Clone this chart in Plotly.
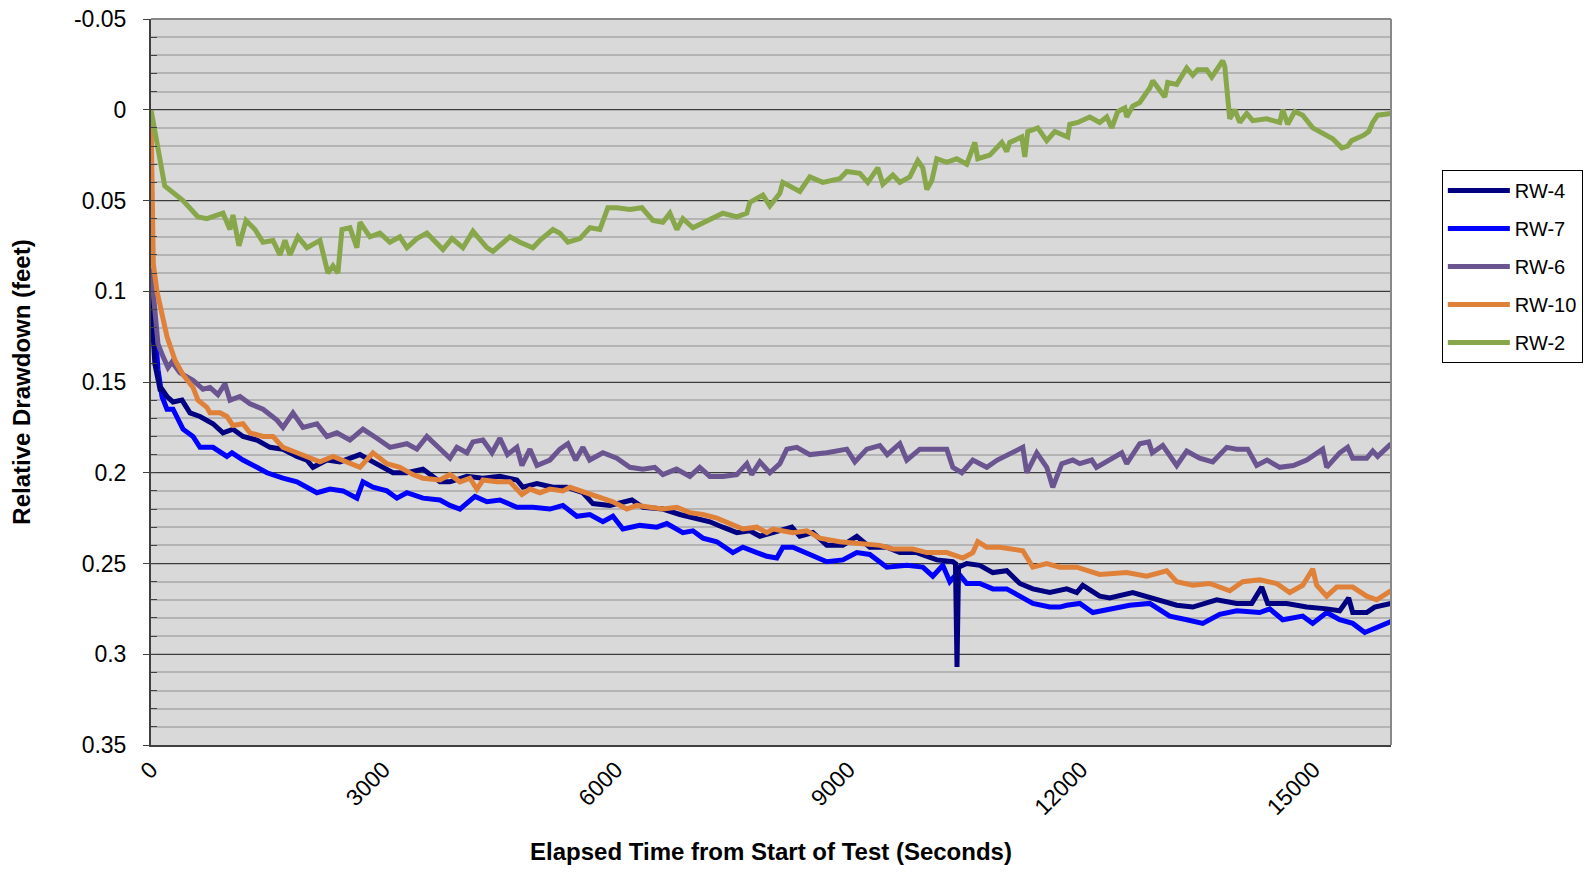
import plotly.graph_objects as go

# ── Data (elapsed seconds, drawdown in feet) ──
RW4_T = [0, 50, 116, 142, 206, 284, 400, 503, 632, 800, 929, 1058, 1187, 1367, 1535, 1703,
         1883, 2012, 2090, 2270, 2438, 2696, 2864, 3122, 3302, 3509, 3728, 3857, 4076, 4283,
         4502, 4721, 4799, 4979, 5186, 5366, 5573, 5702, 5921, 6205, 6347, 6605, 6824, 7043,
         7211, 7379, 7559, 7727, 7856, 8024, 8269, 8372, 8540, 8720, 8927, 9107, 9275, 9494,
         9662, 9881, 10139, 10346, 10380, 10400, 10420, 10526, 10694, 10862, 11042, 11210,
         11378, 11597, 11726, 11816, 11945, 12023, 12242, 12371, 12668, 12848, 13016, 13235,
         13442, 13751, 14009, 14203, 14332, 14409, 14654, 14912, 15170, 15338, 15454, 15506,
         15686, 15790, 16000]
RW4_Y = [0.105, 0.140, 0.154, 0.154, 0.158, 0.161, 0.160, 0.167, 0.169, 0.173, 0.178, 0.176,
         0.180, 0.182, 0.186, 0.187, 0.191, 0.193, 0.197, 0.193, 0.194, 0.190, 0.194, 0.200,
         0.200, 0.198, 0.205, 0.205, 0.202, 0.203, 0.202, 0.204, 0.208, 0.206, 0.208, 0.208,
         0.211, 0.217, 0.218, 0.215, 0.219, 0.220, 0.223, 0.225, 0.227, 0.230, 0.233, 0.232,
         0.235, 0.233, 0.230, 0.235, 0.233, 0.240, 0.240, 0.235, 0.241, 0.241, 0.244, 0.244,
         0.248, 0.249, 0.250, 0.307, 0.252, 0.250, 0.251, 0.255, 0.254, 0.261, 0.264, 0.266,
         0.265, 0.264, 0.266, 0.262, 0.268, 0.269, 0.266, 0.268, 0.270, 0.273, 0.274, 0.270,
         0.272, 0.272, 0.263, 0.272, 0.272, 0.274, 0.275, 0.276, 0.269, 0.277, 0.277, 0.274,
         0.272]

RW7_T = [0, 52, 90, 142, 206, 284, 413, 542, 632, 800, 980, 1045, 1187, 1367, 1496, 1703,
         1883, 2141, 2309, 2477, 2657, 2735, 2864, 3044, 3173, 3302, 3509, 3728, 3857, 3986,
         4180, 4334, 4502, 4721, 4928, 5147, 5315, 5495, 5663, 5831, 5960, 6089, 6308, 6527,
         6656, 6863, 6992, 7121, 7301, 7508, 7637, 7817, 7946, 8075, 8153, 8282, 8462, 8720,
         8927, 9107, 9275, 9494, 9752, 9959, 10088, 10217, 10307, 10410, 10526, 10694, 10862,
         11042, 11210, 11378, 11597, 11726, 11816, 11984, 12152, 12410, 12629, 12887, 13145,
         13364, 13571, 13790, 14009, 14306, 14435, 14603, 14861, 14990, 15170, 15338, 15506,
         15661, 15815, 16000]
RW7_Y = [0.090, 0.127, 0.143, 0.158, 0.165, 0.165, 0.176, 0.180, 0.186, 0.186, 0.191, 0.189,
         0.193, 0.197, 0.200, 0.203, 0.205, 0.211, 0.209, 0.210, 0.214, 0.205, 0.208, 0.210,
         0.214, 0.211, 0.214, 0.215, 0.218, 0.220, 0.213, 0.216, 0.215, 0.219, 0.219, 0.220,
         0.218, 0.224, 0.223, 0.227, 0.224, 0.231, 0.229, 0.230, 0.228, 0.233, 0.232, 0.236,
         0.238, 0.244, 0.241, 0.244, 0.246, 0.247, 0.241, 0.241, 0.244, 0.249, 0.248, 0.244,
         0.245, 0.252, 0.251, 0.252, 0.257, 0.251, 0.260, 0.255, 0.261, 0.261, 0.264, 0.264,
         0.268, 0.272, 0.274, 0.274, 0.273, 0.272, 0.277, 0.275, 0.273, 0.272, 0.279, 0.281,
         0.283, 0.278, 0.276, 0.277, 0.275, 0.281, 0.279, 0.283, 0.277, 0.281, 0.283, 0.288,
         0.285, 0.282]

RW6_T = [0, 52, 90, 155, 219, 271, 374, 542, 671, 761, 864, 955, 1019, 1148, 1277, 1445, 1625,
         1703, 1832, 1961, 2141, 2270, 2399, 2567, 2735, 2915, 3083, 3302, 3431, 3560, 3728,
         3857, 3947, 4076, 4154, 4283, 4400, 4502, 4600, 4721, 4786, 4889, 4980, 5147, 5276,
         5379, 5480, 5573, 5660, 5831, 6011, 6179, 6347, 6500, 6605, 6780, 6953, 7080, 7211,
         7380, 7559, 7688, 7750, 7856, 7985, 8114, 8204, 8333, 8501, 8720, 8978, 9082, 9236,
         9404, 9500, 9662, 9752, 9920, 10088, 10268, 10346, 10462, 10604, 10784, 10920, 11120,
         11249, 11300, 11429, 11558, 11636, 11752, 11894, 11984, 12139, 12200, 12332, 12526,
         12590, 12758, 12874, 12920, 13055, 13235, 13364, 13530, 13700, 13881, 14009, 14151,
         14267, 14400, 14564, 14740, 14912, 15119, 15170, 15338, 15441, 15506, 15686, 15764,
         15828, 16000]
RW6_Y = [0.087, 0.112, 0.129, 0.136, 0.142, 0.139, 0.145, 0.149, 0.154, 0.153, 0.157, 0.151,
         0.160, 0.158, 0.162, 0.165, 0.171, 0.175, 0.167, 0.175, 0.173, 0.180, 0.178, 0.182,
         0.176, 0.181, 0.186, 0.184, 0.187, 0.180, 0.187, 0.192, 0.186, 0.189, 0.183, 0.182,
         0.189, 0.181, 0.190, 0.186, 0.196, 0.187, 0.196, 0.193, 0.187, 0.184, 0.193, 0.186,
         0.193, 0.189, 0.192, 0.197, 0.198, 0.197, 0.201, 0.198, 0.202, 0.197, 0.202, 0.202,
         0.201, 0.195, 0.201, 0.194, 0.200, 0.195, 0.187, 0.186, 0.190, 0.189, 0.187, 0.194,
         0.187, 0.185, 0.190, 0.184, 0.193, 0.187, 0.187, 0.187, 0.197, 0.200, 0.193, 0.197,
         0.193, 0.189, 0.186, 0.200, 0.189, 0.197, 0.208, 0.195, 0.193, 0.195, 0.193, 0.197,
         0.194, 0.189, 0.195, 0.184, 0.183, 0.189, 0.185, 0.196, 0.188, 0.192, 0.194, 0.186,
         0.187, 0.187, 0.196, 0.193, 0.197, 0.196, 0.193, 0.187, 0.197, 0.189, 0.186, 0.192,
         0.192, 0.188, 0.191, 0.184]

RW10_T = [0, 10, 30, 77, 116, 142, 206, 310, 413, 542, 606, 722, 761, 890, 980, 1058, 1187,
          1277, 1445, 1574, 1703, 1883, 2012, 2180, 2348, 2528, 2696, 2864, 3044, 3212, 3380,
          3509, 3728, 3857, 3986, 4115, 4205, 4283, 4463, 4631, 4786, 4889, 5018, 5147, 5315,
          5405, 5534, 5663, 5792, 5960, 6140, 6269, 6437, 6605, 6785, 6953, 7121, 7301, 7469,
          7637, 7817, 7946, 8024, 8282, 8462, 8630, 8888, 9146, 9404, 9572, 9830, 10010, 10268,
          10475, 10604, 10668, 10784, 10952, 11120, 11249, 11378, 11558, 11726, 11945, 12242,
          12590, 12848, 13106, 13235, 13442, 13661, 13919, 14087, 14306, 14525, 14693, 14861,
          14990, 15041, 15170, 15299, 15506, 15686, 15815, 16000]
RW10_Y = [0.002, 0.050, 0.085, 0.100, 0.108, 0.112, 0.125, 0.138, 0.146, 0.153, 0.160, 0.164,
          0.167, 0.167, 0.169, 0.174, 0.173, 0.178, 0.180, 0.180, 0.186, 0.189, 0.191, 0.194,
          0.191, 0.194, 0.197, 0.189, 0.195, 0.197, 0.201, 0.203, 0.204, 0.201, 0.205, 0.203,
          0.209, 0.204, 0.205, 0.205, 0.212, 0.209, 0.211, 0.209, 0.210, 0.208, 0.210, 0.212,
          0.214, 0.216, 0.220, 0.218, 0.219, 0.220, 0.219, 0.222, 0.223, 0.225, 0.228, 0.231,
          0.230, 0.233, 0.231, 0.233, 0.232, 0.236, 0.238, 0.239, 0.240, 0.242, 0.242, 0.244,
          0.244, 0.247, 0.244, 0.238, 0.241, 0.241, 0.242, 0.243, 0.252, 0.250, 0.252, 0.252,
          0.256, 0.255, 0.257, 0.254, 0.260, 0.262, 0.261, 0.265, 0.260, 0.259, 0.261, 0.266,
          0.262, 0.253, 0.262, 0.268, 0.263, 0.263, 0.268, 0.270, 0.265]

RW2_T = [0, 155, 177, 413, 606, 722, 929, 1019, 1058, 1135, 1226, 1342, 1445, 1574, 1664, 1729,
         1793, 1896, 2012, 2180, 2283, 2348, 2412, 2464, 2567, 2657, 2696, 2825, 2954, 3083,
         3212, 3302, 3431, 3560, 3767, 3883, 4025, 4154, 4334, 4412, 4631, 4760, 4928, 5018,
         5186, 5276, 5379, 5534, 5663, 5792, 5895, 6011, 6179, 6334, 6476, 6605, 6695, 6785,
         6863, 6992, 7173, 7379, 7559, 7688, 7727, 7895, 7985, 8114, 8153, 8282, 8372, 8501,
         8669, 8888, 8978, 9146, 9249, 9378, 9443, 9572, 9662, 9791, 9894, 9959, 10010, 10075,
         10139, 10268, 10397, 10526, 10630, 10668, 10823, 10978, 11042, 11081, 11236, 11275,
         11313, 11442, 11558, 11662, 11829, 11855, 11958, 12113, 12242, 12332, 12397, 12474,
         12565, 12590, 12668, 12758, 12848, 12887, 12926, 13016, 13081, 13119, 13235, 13364,
         13442, 13506, 13622, 13687, 13790, 13829, 13855, 13893, 13919, 13984, 14048, 14138,
         14216, 14396, 14564, 14603, 14667, 14758, 14861, 14990, 15119, 15248, 15364, 15441,
         15493, 15596, 15648, 15712, 15764, 15828, 16000]
RW2_Y = [0.000, 0.039, 0.042, 0.050, 0.059, 0.060, 0.057, 0.066, 0.058, 0.075, 0.061, 0.066,
         0.073, 0.072, 0.080, 0.072, 0.080, 0.070, 0.076, 0.072, 0.090, 0.086, 0.090, 0.066,
         0.065, 0.076, 0.062, 0.070, 0.068, 0.073, 0.070, 0.076, 0.071, 0.068, 0.077, 0.071,
         0.076, 0.067, 0.076, 0.078, 0.070, 0.073, 0.076, 0.072, 0.066, 0.068, 0.073, 0.071,
         0.065, 0.066, 0.054, 0.054, 0.055, 0.054, 0.061, 0.062, 0.057, 0.066, 0.060, 0.065,
         0.061, 0.057, 0.059, 0.057, 0.051, 0.047, 0.053, 0.046, 0.040, 0.043, 0.045, 0.037,
         0.040, 0.038, 0.034, 0.035, 0.040, 0.032, 0.041, 0.036, 0.040, 0.037, 0.028, 0.032,
         0.044, 0.039, 0.027, 0.029, 0.027, 0.030, 0.018, 0.027, 0.025, 0.018, 0.023, 0.018,
         0.015, 0.026, 0.012, 0.010, 0.017, 0.012, 0.015, 0.008, 0.007, 0.004, 0.007, 0.004,
         0.010, 0.001, -0.001, 0.004, -0.002, -0.004, -0.009, -0.012, -0.016, -0.011, -0.007,
         -0.015, -0.014, -0.023, -0.019, -0.022, -0.022, -0.018, -0.025, -0.027, -0.024,
         -0.002, 0.005, 0.000, 0.007, 0.002, 0.006, 0.005, 0.007, 0.000, 0.008, 0.001, 0.003,
         0.010, 0.013, 0.016, 0.021, 0.020, 0.017, 0.015, 0.014, 0.012, 0.007, 0.003, 0.002]

Y_TICKS = [-0.05, 0, 0.05, 0.1, 0.15, 0.2, 0.25, 0.3, 0.35]
Y_LABELS = ["-0.05", "0", "0.05", "0.1", "0.15", "0.2", "0.25", "0.3", "0.35"]
X_TICKS = [0, 3000, 6000, 9000, 12000, 15000]
X_LABELS = ["0", "3000", "6000", "9000", "12000", "15000"]

FONT_FAMILY = "Arial, Liberation Sans, sans-serif"

# draw order (last on top) vs legend order
SERIES = [
    ("RW-7", RW7_T, RW7_Y, "#0000FF", 2),
    ("RW-4", RW4_T, RW4_Y, "#000080", 1),
    ("RW-6", RW6_T, RW6_Y, "#6B5591", 3),
    ("RW-10", RW10_T, RW10_Y, "#E0813A", 4),
    ("RW-2", RW2_T, RW2_Y, "#87A74A", 5),
]

fig = go.Figure()
for name, t, y, color, rank in SERIES:
    fig.add_trace(go.Scatter(
        x=t, y=y, mode="lines", name=name,
        line=dict(color=color, width=5),
        legendrank=rank, legendgroup=name,
    ))

fig.update_layout(
    width=1595, height=874,
    paper_bgcolor="white",
    plot_bgcolor="#D9D9D9",
    font=dict(family=FONT_FAMILY, size=23, color="black"),
    margin=dict(l=151, r=204, t=19, b=129),
    showlegend=True,
    legend=dict(
        x=1.041, y=0.792, xanchor="left", yanchor="top",
        bgcolor="white", bordercolor="black", borderwidth=1,
        font=dict(size=20), tracegroupgap=9, itemwidth=62,
    ),
)

fig.update_xaxes(
    range=[0, 16000],
    tickvals=X_TICKS, ticktext=X_LABELS, tickangle=-45,
    showgrid=False, zeroline=False, automargin=False,
    showline=True, linecolor="#404040", linewidth=2,
    ticks="", ticklen=0,
    title=dict(text="<b>Elapsed Time from Start of Test (Seconds)</b>",
               font=dict(size=24), standoff=24),
)

fig.update_yaxes(
    range=[0.35, -0.05],
    tickvals=Y_TICKS, ticktext=Y_LABELS, ticklabelstandoff=12,
    ticklabeloverflow="allow",
    showgrid=True, gridcolor="#3A3A3A", gridwidth=1,
    zeroline=False, automargin=False,
    showline=True, linecolor="#404040", linewidth=2,
    ticks="outside", ticklen=6, tickcolor="#404040",
    minor=dict(dtick=0.01, showgrid=True, gridcolor="#B4B4B4", gridwidth=2,
               ticks="inside", ticklen=6, tickcolor="#404040"),
    title=dict(text="<b>Relative Drawdown (feet)</b>", font=dict(size=24), standoff=37),
)

# gray frame on top / right like the original chart
fig.add_shape(type="line", xref="paper", yref="paper", x0=0, x1=1, y0=1, y1=1,
              line=dict(color="#888888", width=2), layer="above")
fig.add_shape(type="line", xref="paper", yref="paper", x0=1, x1=1, y0=0, y1=1,
              line=dict(color="#888888", width=2), layer="above")

# drop the default 8px body margin so the figure sits at the page origin
fig.write_html("out.html", config={"displayModeBar": False},
               post_script="document.body.style.margin='0';")
